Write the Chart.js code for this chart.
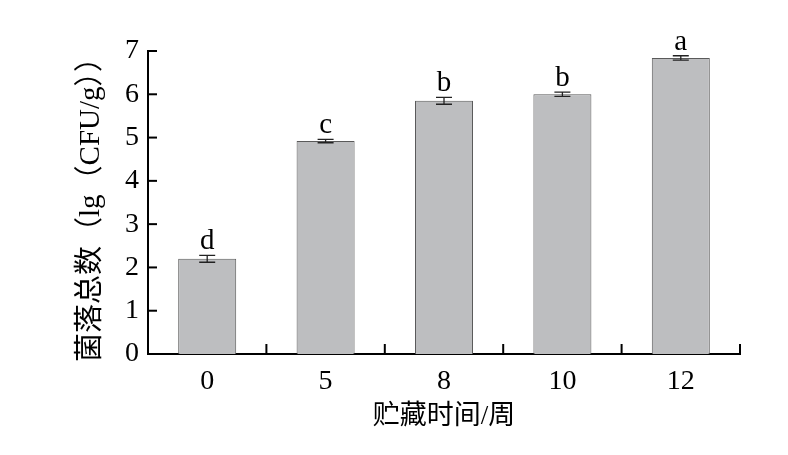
<!DOCTYPE html>
<html><head><meta charset="utf-8">
<script src="https://cdn.jsdelivr.net/npm/chart.js@4"></script>
<style>html,body{margin:0;padding:0;background:#fff}#wrap{width:788px;height:455px}</style>
</head><body><div id="wrap"><canvas id="c" width="788" height="455"></canvas></div>
<script>
const categories = ['0', '5', '8', '10', '12'];
const values = [2.2, 4.92, 5.85, 6.0, 6.84];
const errors = [0.08, 0.04, 0.08, 0.05, 0.05];
const letters = ['d', 'c', 'b', 'b', 'a'];
const yTicks = [0, 1, 2, 3, 4, 5, 6, 7];
const xTitle = '贮藏时间/周';
const yTitle = '菌落总数（lg（CFU/g））';

const FONT = '"Liberation Serif", "Noto Sans CJK SC", serif';

const overlay = {
  id: 'overlay',
  afterDatasetsDraw(chart) {
    const ctx = chart.ctx;
    const xs = chart.scales.x, ys = chart.scales.y;
    const meta = chart.getDatasetMeta(0);
    ctx.save();
    ctx.strokeStyle = '#000';
    ctx.lineWidth = 2;
    yTicks.forEach(v => {
      const py = ys.getPixelForValue(v);
      ctx.beginPath(); ctx.moveTo(xs.left, py); ctx.lineTo(xs.left + 9, py); ctx.stroke();
    });
    for (let i = 0; i < categories.length; i++) {
      const px = xs.getPixelForValue(i) + (xs.getPixelForValue(1) - xs.getPixelForValue(0)) / 2;
      ctx.beginPath(); ctx.moveTo(px, ys.bottom); ctx.lineTo(px, ys.bottom - 10); ctx.stroke();
    }
    ctx.lineWidth = 1.3;
    ctx.strokeStyle = '#222';
    ctx.fillStyle = '#000';
    ctx.font = '29px ' + FONT;
    ctx.textAlign = 'center';
    ctx.textBaseline = 'alphabetic';
    meta.data.forEach((bar, i) => {
      const cx = bar.x;
      const hi = ys.getPixelForValue(values[i] + errors[i]);
      const lo = ys.getPixelForValue(values[i] - errors[i]);
      const cap = 8;
      ctx.beginPath();
      ctx.moveTo(cx, hi); ctx.lineTo(cx, lo);
      ctx.moveTo(cx - cap, hi); ctx.lineTo(cx + cap, hi);
      ctx.moveTo(cx - cap, lo); ctx.lineTo(cx + cap, lo);
      ctx.stroke();
      ctx.fillText(letters[i], cx, hi - 6);
    });
    ctx.restore();
  }
};

new Chart(document.getElementById('c'), {
  type: 'bar',
  data: {
    labels: categories,
    datasets: [{
      data: values,
      backgroundColor: '#bdbec0',
      borderColor: '#5a5a5a',
      borderWidth: 1,
      borderSkipped: 'bottom',
      barPercentage: 0.49,
      categoryPercentage: 1.0
    }]
  },
  options: {
    responsive: false,
    animation: false,
    devicePixelRatio: 1,
    layout: { padding: { left: 74, right: 48, top: 51, bottom: 22 } },
    plugins: { legend: { display: false }, tooltip: { enabled: false } },
    scales: {
      x: {
        grid: { display: false, drawTicks: false },
        border: { display: true, color: '#000', width: 2 },
        ticks: { color: '#000', font: { family: FONT, size: 28 }, padding: 11 },
        title: { display: true, text: xTitle, color: '#000', font: { family: FONT, size: 27 }, padding: 0 },
        afterFit(s) { s.height = 455 - 354 - 22; }
      },
      y: {
        min: 0, max: 7,
        grid: { display: false, drawTicks: false },
        border: { display: true, color: '#000', width: 2 },
        ticks: { color: '#000', stepSize: 1, font: { family: FONT, size: 28 }, padding: 9 },
        title: { display: true, text: yTitle, color: '#000', font: { family: FONT, size: 29 }, padding: 0 },
        afterFit(s) { s.width = 148 - 74; }
      }
    }
  },
  plugins: [overlay]
});
</script>
</body></html>
